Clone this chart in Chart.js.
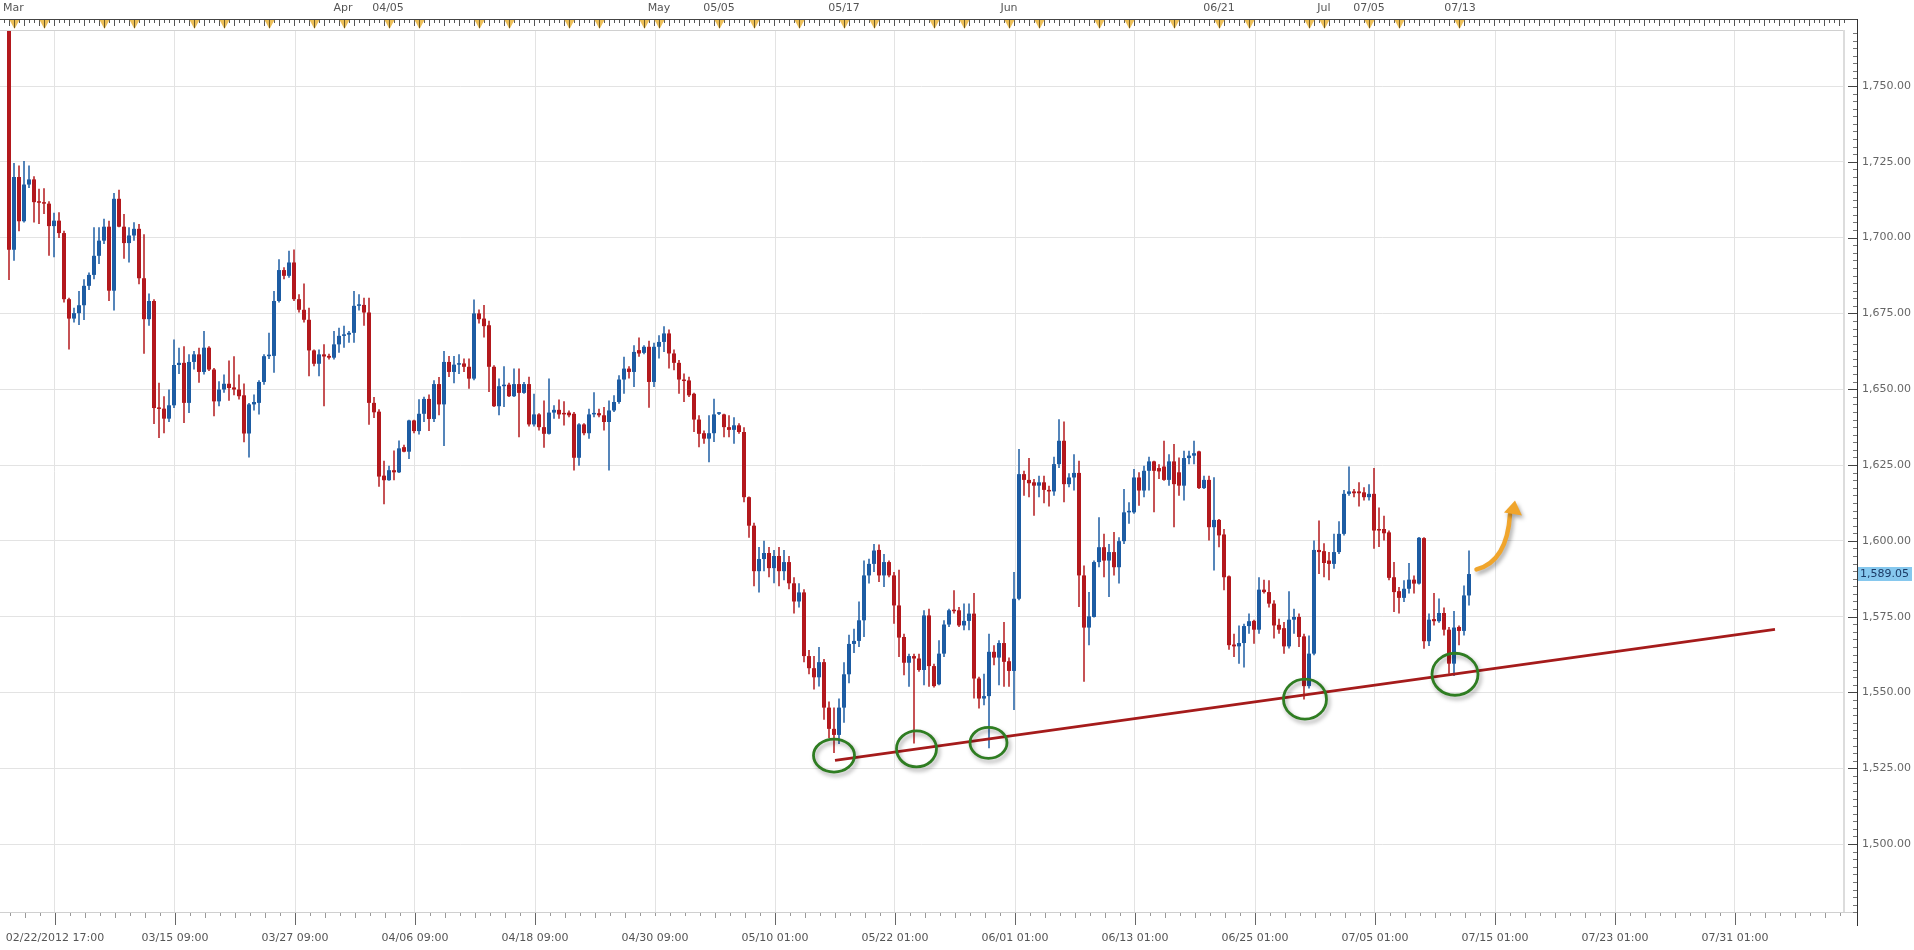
<!DOCTYPE html>
<html><head><meta charset="utf-8">
<script src="https://cdn.jsdelivr.net/npm/chart.js@4/dist/chart.umd.min.js"></script>
<style>html,body{margin:0;padding:0;background:#fff;}#wrap{position:relative;width:1914px;height:950px;}</style>
</head><body><div id="wrap"><canvas id="c" width="1914" height="950"></canvas></div>
<script>
// ---- data (8-hour candles, index 0 = first visible bar) ----
const opens = [
1772,1696,1720,1705.4,1717.5,1719.2,1711.7,1711.5,1711.2,1703.8,
1705.6,1701.5,1679.7,1673.3,1675.1,1677.7,1684.1,1687.7,1694,1699,
1703.6,1682.5,1712.8,1703.6,1698.2,1700.7,1702.9,1686.6,1673.1,1679.1,
1644,1643.6,1640.3,1644.7,1658,1658.7,1645.5,1659,1661.5,1655.7,
1663.7,1656.5,1646,1649.9,1651.8,1650.6,1649.9,1648,1635.4,1645,
1645.5,1652.4,1660.9,1661,1679.1,1689.3,1687.4,1691.8,1679.7,1676.2,
1672.9,1662.8,1658.4,1661.5,1661,1660.4,1664.8,1667.6,1668,1668.6,
1677.5,1677.8,1675.3,1645.5,1642.6,1621.5,1620,1623.3,1622.6,1630.9,
1629.4,1639.7,1636.2,1641.9,1646.8,1640.2,1651.7,1645,1659,1655.7,
1658.1,1658.5,1657.4,1653.5,1675,1673.3,1671.1,1657.4,1644.4,1651,
1651.5,1647.7,1651.7,1648.8,1651.7,1638.4,1641.7,1637.5,1635.3,1642.3,
1643.2,1642,1642.3,1641.9,1627.4,1638.4,1635.5,1641.7,1642.1,1641.4,
1639.2,1643,1645.8,1653.2,1656.8,1655.7,1662.9,1662,1664,1652.4,
1664,1665.6,1668.4,1661.8,1658.7,1653.2,1652.9,1648.5,1640,1635.5,
1633.7,1635.5,1641.9,1641.7,1637.5,1636.6,1638.1,1635.9,1614.4,1605,
1590,1594,1596,1591,1595,1590,1593,1586,1580,1583,
1562,1558,1555,1560,1545,1538,1536,1545,1556,1566,
1567,1573.8,1588.6,1592.4,1597,1588.6,1593,1588.6,1578.7,1568.3,
1559.8,1562,1561.2,1557.4,1575.4,1558.7,1552.7,1562.8,1572.4,1577.1,
1577.1,1572.1,1573.6,1576,1554.6,1548,1548.8,1563.4,1561.5,1566.3,
1560.3,1557.1,1580.9,1622,1620.1,1619.3,1618.2,1619.3,1616.8,1616.3,
1625.3,1633,1618.7,1620.9,1622.4,1588.6,1571.4,1574.9,1593,1597.9,
1593.5,1596.3,1591.3,1599.9,1609.4,1609.4,1620.9,1616.6,1623.1,1626.2,
1624,1624.5,1620.1,1626.2,1622.6,1618.2,1627.3,1628.1,1629.5,1617.4,
1620.1,1604.5,1606.9,1602.1,1588.3,1565.8,1565.2,1566.3,1571.9,1573.6,
1570.7,1583.9,1583.1,1579.3,1572.3,1571.2,1565.2,1574,1574.9,1568.5,
1552.1,1562.8,1597,1596.6,1593.5,1592.4,1596.3,1602.3,1615.5,1616.3,
1616.3,1616,1614.4,1615.5,1603.9,1603.9,1602.8,1588,1583.4,1581.2,
1584.2,1587.2,1585.9,1600.9,1566.9,1574.2,1573.5,1576.2,1570.7,1559.5,
1571.6,1570.3,1582];
const highs = [
1775,1724.6,1723.8,1725.3,1723.8,1720.2,1716.1,1716.3,1712,1708.2,
1708.4,1702.3,1680.2,1676.9,1682.4,1686.3,1688.5,1703.4,1703.4,1706.2,
1705.6,1714.7,1715.8,1707.8,1703.4,1705.1,1704.5,1701.1,1681.6,1679.7,
1652.1,1647.7,1649.9,1666.4,1663.7,1664.2,1661.5,1662.6,1663.7,1669.2,
1664.2,1657,1652.6,1654.9,1659.5,1660.9,1654.9,1651.9,1645.5,1648.3,
1653,1661.5,1668.6,1682.4,1692.9,1690.2,1695.7,1696.1,1681.3,1684.9,
1676.9,1663.1,1663.1,1664.8,1661.7,1669.2,1670.3,1670.9,1669.2,1682.4,
1681.3,1680.2,1680.2,1647.4,1643.4,1626.4,1624.8,1629.8,1633.1,1631.7,
1639.9,1639.9,1646.7,1647.5,1648.3,1653,1654,1662.6,1661,1661,
1661.5,1660.1,1660.1,1679.6,1676.3,1677.8,1672.6,1657.9,1653.5,1657.6,
1652.1,1656.8,1656.8,1652.4,1654.1,1648.5,1642.1,1646.3,1653.5,1644.7,
1646.6,1646,1643,1642.5,1638.8,1638.8,1643.6,1649,1643.6,1644.1,
1646.3,1648,1654.6,1660.7,1657.6,1664.5,1667.1,1664.5,1666,1665.3,
1667.8,1670.8,1669.7,1663.1,1659.6,1655.2,1654.1,1648.8,1641.4,1636.4,
1641.4,1646.9,1642.5,1641.9,1641.4,1640.8,1638.8,1637.5,1614.6,1606,
1598,1600,1598,1597,1598,1597,1595,1588,1586,1584,
1564,1562,1565,1561,1547,1545,1548,1560,1569,1571,
1580,1593.5,1594.1,1599,1598.8,1595.7,1593.5,1589.7,1590.5,1569.4,
1562.8,1562.8,1562.8,1577.1,1577.6,1559.5,1567.2,1573.8,1577.6,1583.7,
1578.2,1579.3,1579.3,1582.8,1555.2,1556.2,1569.4,1565.6,1567.2,1573.2,
1561.5,1589.7,1630.3,1623.1,1627.3,1620.4,1621.5,1621.5,1618.2,1627.7,
1640.1,1639.4,1622.3,1628.6,1626.4,1591.9,1583.1,1593.5,1607.8,1602.3,
1599,1602.9,1601.2,1617.1,1612.7,1623.7,1622.6,1624.8,1627.7,1626.4,
1625.3,1633,1628.6,1631.9,1627.5,1629.7,1629.7,1633,1629.7,1621.5,
1621.5,1621,1607.2,1603.9,1588.6,1569.4,1572.1,1572.7,1576,1574,
1588,1587.2,1587,1580.4,1574.3,1573.2,1583.4,1577.6,1576,1569.4,
1568.8,1600.1,1606.7,1599.2,1596.3,1602.3,1606.5,1616.8,1624.5,1617.1,
1619.3,1617.7,1618.7,1624,1611,1608.3,1603.4,1593,1584.8,1587,
1592.7,1588.6,1601.3,1601.2,1576,1582.8,1581,1578,1571.6,1576.9,
1572.1,1585.3,1596.8];
const lows = [
1686,1692.4,1702.1,1705,1716.4,1705,1704.5,1707.8,1694,1693.5,
1699.9,1678.6,1663.1,1672,1671.2,1672.8,1682.7,1686.3,1691.3,1697.9,
1679.1,1676,1703.4,1693,1691.8,1699,1684.6,1661.7,1670.9,1638.5,
1633.9,1635.5,1639.2,1643.8,1655,1638.9,1642.2,1656.5,1652.1,1654.9,
1656,1641.1,1644.4,1648.8,1646.2,1648,1646.6,1632.5,1627.5,1643,
1641.7,1651.5,1660,1655.4,1678.6,1686.3,1686.8,1679.1,1675.3,1672,
1654.3,1657.6,1654.3,1644.4,1659.8,1659.8,1662,1663.7,1665.3,1665.3,
1676,1670.9,1638.3,1640.5,1617.8,1612.1,1619.8,1620,1622.4,1629.2,
1627,1635.5,1635.1,1639.2,1636.2,1639.2,1641.4,1631.3,1654,1652,
1655,1655.7,1650.2,1653,1671.7,1667.1,1649.1,1644.1,1641.4,1644.1,
1647.4,1647.4,1634.2,1648.5,1637.7,1637.7,1636.4,1630.7,1635.1,1640.3,
1640.3,1638,1640.8,1623.2,1624.8,1634.8,1633.7,1640.8,1640.8,1636.4,
1623.2,1642.5,1645.2,1648.5,1653.5,1650.7,1660.7,1661.5,1643.9,1650.7,
1660.1,1662.3,1656.8,1656.3,1648.5,1645.8,1647.4,1635.9,1630.9,1632,
1625.9,1632.6,1641.5,1634.2,1634.2,1632,1635.3,1612.7,1601,1585,
1583,1590,1588,1586,1585,1587,1584,1576,1578,1560,
1556,1551,1552,1541,1535,1530,1533,1540,1553,1563,
1565,1568.3,1585.9,1589.7,1586.4,1584.8,1588,1572.7,1561.7,1555.7,
1551.9,1533.2,1556.8,1552.4,1551.9,1551.6,1552.4,1561.7,1571.6,1576,
1571.6,1570.5,1570.5,1548,1544.7,1545.8,1531.6,1559,1552.4,1551.9,
1551.9,1544.2,1580.4,1614.9,1614.4,1608.3,1614.4,1612.4,1611.3,1614.9,
1624,1612.7,1617.7,1616.6,1578.2,1553.5,1565.6,1574.7,1591.3,1588,
1581.5,1588.6,1585.9,1599,1605.6,1608.9,1611.6,1614.4,1616.6,1609.4,
1620.4,1619.8,1618.2,1604.5,1614.9,1613.3,1625.3,1625.3,1617.1,1617.1,
1600.1,1590.2,1597.9,1583.7,1564.1,1561.7,1559.5,1558.2,1569.4,1566.1,
1569.4,1582.6,1578,1567.8,1569.4,1562.8,1564.5,1569.4,1565,1547.7,
1551.3,1562.3,1589.1,1588,1587,1590.8,1595.7,1601.8,1614.9,1614.4,
1611.3,1613.3,1613.3,1597.4,1598,1600.1,1587,1576.5,1576,1579.8,
1582.6,1582.6,1585.6,1564.4,1565.3,1572.1,1573,1568.8,1556.2,1555.4,
1565.6,1568.8,1578.7];
const closes = [
1696,1720,1705.4,1717.5,1719.2,1711.7,1711.5,1711.2,1703.8,1705.6,
1701.5,1679.7,1673.3,1675.1,1677.7,1684.1,1687.7,1694,1699,1703.6,
1682.5,1712.8,1703.6,1698.2,1700.7,1702.9,1686.6,1673.1,1679.1,1643.8,
1643.5,1640.3,1644.7,1658,1658.7,1645.5,1659,1661.5,1655.7,1663.7,
1656.5,1646,1649.9,1651.8,1650.4,1649.9,1647.7,1635.4,1645,1645.8,
1652.4,1660.9,1661.2,1679.1,1689.3,1687.4,1691.8,1679.7,1676.2,1672.9,
1662.8,1658.4,1661.5,1660.8,1660.4,1664.8,1667.6,1668.1,1668.6,1677.5,
1677.8,1675.3,1645.5,1642.4,1621.2,1620,1623.3,1622.6,1630.5,1629.4,
1639.7,1636.2,1641.9,1646.8,1640.2,1651.7,1645,1659,1655.7,1658.1,
1658.5,1657.4,1653.5,1675,1673.1,1670.8,1657.4,1644.4,1651,1651.5,
1647.7,1651.7,1648.8,1651.7,1638.4,1641.7,1637.5,1635.3,1642.3,1643.2,
1641.7,1641.7,1641.4,1627.4,1638.4,1635.5,1641.7,1642.1,1641.4,1639.2,
1643,1645.8,1653.2,1656.8,1655.7,1662.3,1661.8,1664,1652.4,1664,
1665.6,1668.4,1661.8,1658.7,1653.2,1652.7,1648,1640,1635.3,1633.7,
1635.5,1641.7,1642.1,1637.5,1636.6,1638.1,1635.9,1614.4,1605,1590,
1594,1596,1591,1595,1590,1593,1586,1580,1583,1562,
1558,1555,1560,1545,1538,1536,1545,1556,1566,1567,
1573.8,1588.6,1592.4,1596.8,1588.6,1593,1588.6,1578.7,1568.1,1559.8,
1562,1561.2,1557.4,1575.4,1558.7,1552.1,1562.8,1572.4,1577.1,1576.8,
1572.1,1573.6,1576,1554.6,1548,1548.8,1563.4,1561.5,1566.3,1560.1,
1557.1,1580.9,1622,1620.1,1619,1618.2,1619.3,1616.8,1616.3,1625.3,
1633,1618.7,1620.9,1622.4,1588.6,1571.4,1575.1,1593,1597.9,1593.5,
1596.3,1591.3,1599.9,1609.4,1609.6,1620.9,1616.6,1623.1,1626.2,1623.1,
1622.9,1620.1,1626.2,1618.7,1618.2,1627.3,1628.1,1628.9,1617.4,1620.1,
1604.5,1606.9,1601.8,1588,1565.6,1565.2,1566.3,1571.9,1573.5,1570.7,
1583.9,1583.1,1579.3,1572.1,1570.7,1565.2,1574,1574.9,1568.3,1552.1,
1562.8,1597,1596.3,1592.7,1592.4,1596.3,1602.3,1615.5,1616.3,1615.7,
1615.7,1614.4,1615.5,1603.4,1603.4,1602.5,1587.8,1583.1,1581.2,1584.2,
1587.2,1585.9,1601,1566.9,1574,1573.5,1576.2,1570.7,1559.5,1571.4,
1570.3,1582,1589.05];

// bottom axis ticks (bar-index positions) and labels
const xTickPos = [9.2,33.2,57.2,81.2,105.2,129.2,153.2,177.2,201.2,225.2,249.2,273.2,297.2,321.2,345.2];
const xTickLabels = ["02/22/2012 17:00","03/15 09:00","03/27 09:00","04/06 09:00","04/18 09:00","04/30 09:00","05/10 01:00","05/22 01:00","06/01 01:00","06/13 01:00","06/25 01:00","07/05 01:00","07/15 01:00","07/23 01:00","07/31 01:00"];
// top axis labels and event markers (bar-index positions)
const topLabelPos = [0.9,66.8,75.8,130,142,167,200,242,263,272,290.2];
const topLabels = ["Mar","Apr","04/05","May","05/05","05/17","Jun","06/21","Jul","07/05","07/13"];
const eventPos = [1,7,19,25,37,43,52,61,67,76,82,94,100,112,118,127,130,142,149,158,167,173,185,191,200,206,218,224,233,242,248,260,263,272,278,290];
// price ticks
const yTicks = [1500,1525,1550,1575,1600,1625,1650,1675,1700,1725,1750];
const lastPrice = 1589.05;
// support trend line (bar index, price)
const trendX = [165.2, 353.2];
const trendY = [1527.6, 1570.8];
// annotation anchors: circled lows (bar index, price) and the arrow (start/tip)
const circleX = [165, 181.5, 195.9, 259.2, 289.2];
const circleY = [1529.2, 1531.4, 1533.4, 1547.8, 1556];
const arrowX = [293.5, 301.2];
const arrowY = [1590.6, 1613.3];

// ---- chart ----
const BLUE = '#1d5ca3', RED = '#b3181d';
const idx = opens.map((_, i) => i);
const colors = idx.map(i => closes[i] >= opens[i] ? BLUE : RED);
const fmt = v => { const s = v.toFixed(2); const [a, b] = s.split('.'); return a.replace(/\B(?=(\d{3})+(?!\d))/g, ',') + '.' + b; };

Chart.defaults.font.family = 'DejaVu Sans';

const decor = {
  id: 'decor',
  beforeDraw(chart) {
    const c = chart.ctx; c.save(); c.fillStyle = '#fff'; c.fillRect(0, 0, chart.width, chart.height); c.restore();
  },
  afterDatasetsDraw(chart) {
    const c = chart.ctx, xs = chart.scales.x, ys = chart.scales.y;
    const rx = [20.5, 20, 18.5, 21.5, 23], ry = [16.5, 18, 15.5, 20, 21];
    c.save();
    c.lineWidth = 2.8; c.strokeStyle = '#2f7d22';
    c.shadowColor = 'rgba(0,0,0,0.35)'; c.shadowBlur = 4; c.shadowOffsetX = 2; c.shadowOffsetY = 3;
    circleX.forEach((v, k) => {
      c.beginPath();
      c.ellipse(xs.getPixelForValue(v), ys.getPixelForValue(circleY[k]), rx[k], ry[k], 0, 0, Math.PI * 2);
      c.stroke();
    });
    // arrow
    const x0 = xs.getPixelForValue(arrowX[0]), y0 = ys.getPixelForValue(arrowY[0]);
    const x1 = xs.getPixelForValue(arrowX[1]), y1 = ys.getPixelForValue(arrowY[1]);
    c.strokeStyle = '#f0a52c'; c.fillStyle = '#f0a52c'; c.lineWidth = 4.5; c.lineCap = 'round';
    c.beginPath(); c.moveTo(x0, y0); c.quadraticCurveTo(x1 - 8, y0 - 8, x1 - 5, y1 + 14); c.stroke();
    c.beginPath(); c.moveTo(x1, y1); c.lineTo(x1 + 7, y1 + 15); c.lineTo(x1 - 11, y1 + 12); c.closePath(); c.fill();
    c.restore();
  },
  afterDraw(chart) {
    const c = chart.ctx, xs = chart.scales.x, ys = chart.scales.y, a = chart.chartArea;
    c.save();
    // plot frame
    c.fillStyle = '#dcdcdc'; c.fillRect(a.right, a.top - 1, 2, a.bottom - a.top + 1);
    c.fillStyle = '#d0d0d0'; c.fillRect(0, a.top - 1, a.right, 1); c.fillRect(0, a.bottom, a.right + 14, 1);
    // top axis
    c.fillStyle = '#444'; c.fillRect(0, 19, 1858, 1);
    for (let v = -1; v <= 367; v++) {
      const x = Math.round(xs.getPixelForValue(v));
      const len = (v % 3 === 0) ? 6 : 3;
      c.fillStyle = '#555'; c.fillRect(x, 20, 1, len);
    }
    eventPos.forEach(v => {
      const x = Math.round(xs.getPixelForValue(v)) + 0.5;
      c.fillStyle = 'rgba(234,184,70,0.9)';
      c.beginPath(); c.moveTo(x - 5, 20); c.lineTo(x + 5, 20); c.lineTo(x, 29); c.closePath(); c.fill();
      c.fillStyle = '#6b5a2a'; c.fillRect(x - 0.5, 20, 1, 8);
    });
    c.font = '11px "DejaVu Sans"'; c.fillStyle = '#555'; c.textAlign = 'center'; c.textBaseline = 'middle';
    topLabels.forEach((t, k) => c.fillText(t, xs.getPixelForValue(topLabelPos[k]), 8));
    // bottom axis ticks
    for (let v = 9.2 - 24; v <= 367; v += 3) {
      if (v < -2) continue;
      const x = Math.round(xs.getPixelForValue(v));
      const major = Math.abs(((v - 9.2) % 24)) < 0.01;
      const half = Math.abs(((v - 9.2) % 6)) < 0.01;
      c.fillStyle = major ? '#666' : '#999';
      c.fillRect(x, a.bottom + 1, 1, major ? 12 : (half ? 5 : 3));
    }
    // right axis
    c.fillStyle = '#333'; c.fillRect(1857, 19, 1, 907);
    for (let p = 1477.5; p <= 1768; p += 2.5) {
      const y = Math.round(ys.getPixelForValue(p));
      const major = Math.abs(p % 25) < 0.01;
      c.fillStyle = major ? '#444' : '#777';
      c.fillRect(major ? 1848 : 1853, y, major ? 9 : 4, 1);
    }
    // last price badge
    const yb = Math.round(ys.getPixelForValue(lastPrice));
    c.fillStyle = '#86c8ee'; c.fillRect(1858, yb - 7, 54, 14);
    c.fillStyle = '#1b3b66'; c.textAlign = 'left'; c.font = '11px "DejaVu Sans"';
    c.fillText(fmt(lastPrice), 1860, yb + 0.5);
    c.restore();
  }
};

new Chart(document.getElementById('c'), {
  type: 'bar',
  data: {
    datasets: [
      { type: 'line', data: trendX.map((x, k) => ({ x, y: trendY[k] })), borderColor: '#a51b1b', borderWidth: 2.6, pointRadius: 0, order: 0 },
      { data: idx.map(i => ({ x: i, y: [opens[i], closes[i]] })), backgroundColor: colors, barThickness: 4, grouped: false, minBarLength: 1.5, inflateAmount: 0, borderWidth: 0, order: 1 },
      { data: idx.map(i => ({ x: i, y: [lows[i], highs[i]] })), backgroundColor: colors, barThickness: 1.5, grouped: false, inflateAmount: 0, borderWidth: 0, order: 2 }
    ]
  },
  options: {
    responsive: false, animation: false,
    layout: { padding: { top: 31, left: 0, right: 0, bottom: 0 } },
    plugins: { legend: { display: false }, tooltip: { enabled: false } },
    scales: {
      x: {
        type: 'linear', min: -1.8, max: 366.8, offset: false,
        afterFit(s) { s.height = 38; s.paddingLeft = 0; s.paddingRight = 0; },
        afterBuildTicks(s) { s.ticks = xTickPos.map(v => ({ value: v })); },
        ticks: { autoSkip: false, maxRotation: 0, padding: 20, color: '#555', font: { size: 11 }, callback: (v, k) => xTickLabels[k] },
        grid: { color: '#e3e3e3', drawTicks: false, offset: false },
        border: { display: false }
      },
      y: {
        position: 'right', min: 1477.6, max: 1768.14,
        afterFit(s) { s.width = 71; s.paddingTop = 0; s.paddingBottom = 0; },
        afterBuildTicks(s) { s.ticks = yTicks.map(v => ({ value: v })); },
        ticks: { padding: 19, color: '#666', font: { size: 11 }, callback: v => fmt(v) },
        grid: { color: '#e3e3e3', drawTicks: false },
        border: { display: false }
      }
    }
  },
  plugins: [decor]
});
</script></body></html>
